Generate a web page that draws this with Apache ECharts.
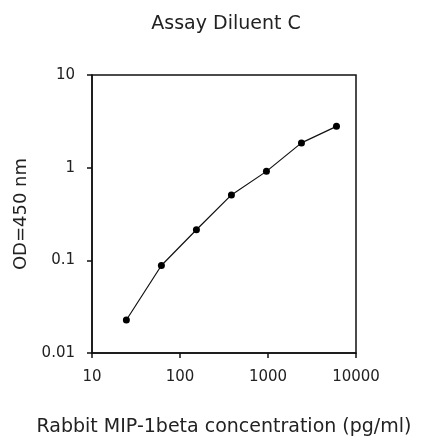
<!DOCTYPE html>
<html>
<head>
<meta charset="utf-8">
<script src="https://cdn.jsdelivr.net/npm/echarts@6/dist/echarts.min.js"></script>
<style>
html,body{margin:0;padding:0;background:#fff;}
#chart{width:422px;height:442px;}
</style>
</head>
<body>
<div id="chart"></div>
<script>
var concentrations = [24.576, 61.44, 153.6, 384, 960, 2400, 6000];
var odValues = [0.0227, 0.088, 0.214, 0.508, 0.912, 1.85, 2.79];
var xTickLabels = ['10', '100', '1000', '10000'];
var yTickLabels = ['0.01', '0.1', '1', '10'];
var chartTitle = 'Assay Diluent C';
var xName = 'Rabbit MIP-1beta concentration (pg/ml)';
var yName = 'OD=450 nm';

var points = concentrations.map(function (c, i) { return [c, odValues[i]]; });
var FONT = 'DejaVu Sans';
var chart = echarts.init(document.getElementById('chart'), null, {renderer: 'canvas'});
chart.setOption({
  animation: false,
  backgroundColor: '#ffffff',
  title: {
    text: chartTitle,
    left: 221,
    top: 10,
    textAlign: 'center',
    textStyle: {fontFamily: FONT, fontSize: 19, fontWeight: 'normal', color: '#222'}
  },
  grid: {
    left: 92, right: 66, top: 75, bottom: 87,
    show: true, borderColor: '#111', borderWidth: 1.5, backgroundColor: 'transparent'
  },
  xAxis: {
    type: 'log', logBase: 10, min: 10, max: 10000,
    name: xName, nameLocation: 'middle', nameGap: 65,
    nameTextStyle: {fontFamily: FONT, fontSize: 19, color: '#222'},
    axisLine: {show: true, lineStyle: {color: '#111', width: 1.5}},
    axisTick: {show: true, inside: false, length: 5, lineStyle: {color: '#111', width: 1.5}},
    minorTick: {show: false},
    splitLine: {show: false},
    axisLabel: {
      margin: 17, fontFamily: FONT, fontSize: 15, color: '#222',
      formatter: function (v, i) { return xTickLabels[i] !== undefined ? xTickLabels[i] : String(v); }
    }
  },
  yAxis: {
    type: 'log', logBase: 10, min: 0.01, max: 10,
    name: yName, nameLocation: 'middle', nameGap: 62, nameRotate: 90,
    nameTextStyle: {fontFamily: FONT, fontSize: 18, color: '#222'},
    axisLine: {show: true, lineStyle: {color: '#111', width: 1.5}},
    axisTick: {show: true, inside: false, length: 5, lineStyle: {color: '#111', width: 1.5}},
    minorTick: {show: false},
    splitLine: {show: false},
    axisLabel: {
      margin: 17, fontFamily: FONT, fontSize: 15, color: '#222',
      formatter: function (v, i) { return yTickLabels[i] !== undefined ? yTickLabels[i] : String(v); }
    }
  },
  series: [{
    type: 'line',
    data: points,
    symbol: 'circle',
    symbolSize: 7,
    lineStyle: {color: '#111', width: 1.2},
    itemStyle: {color: '#000'}
  }]
});
</script>
</body>
</html>
